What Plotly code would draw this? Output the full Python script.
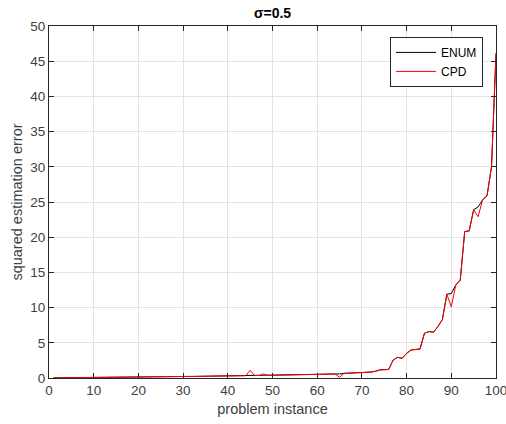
import plotly.graph_objects as go

# problem instances 1..100, sorted by ENUM error
instances = list(range(1, 101))

enum_err = [
    0.02, 0.03, 0.04, 0.05, 0.05, 0.06, 0.06, 0.07, 0.07, 0.08,
    0.08, 0.09, 0.09, 0.10, 0.10, 0.11, 0.11, 0.12, 0.13, 0.14,
    0.15, 0.15, 0.16, 0.17, 0.17, 0.18, 0.19, 0.19, 0.20, 0.21,
    0.22, 0.22, 0.23, 0.24, 0.25, 0.26, 0.27, 0.28, 0.29, 0.30,
    0.31, 0.31, 0.32, 0.32, 0.33, 0.34, 0.34, 0.40, 0.36, 0.37,
    0.38, 0.39, 0.40, 0.41, 0.42, 0.44, 0.46, 0.47, 0.49, 0.51,
    0.52, 0.53, 0.55, 0.57, 0.58, 0.66, 0.68, 0.70, 0.71, 0.72,
    0.78, 0.84, 0.95, 1.15, 1.18, 1.22, 2.56, 2.94, 2.80, 3.50,
    3.98, 4.05, 4.12, 6.35, 6.60, 6.50, 7.30, 8.30, 11.90, 12.00,
    13.20, 13.90, 20.80, 20.90, 23.90, 24.30, 25.30, 25.90, 30.00, 46.10,
]

cpd_err = [
    0.02, 0.03, 0.04, 0.05, 0.05, 0.06, 0.06, 0.07, 0.07, 0.08,
    0.08, 0.09, 0.09, 0.10, 0.10, 0.11, 0.11, 0.12, 0.13, 0.14,
    0.15, 0.15, 0.16, 0.17, 0.17, 0.18, 0.19, 0.19, 0.20, 0.21,
    0.22, 0.22, 0.23, 0.24, 0.25, 0.26, 0.27, 0.28, 0.29, 0.30,
    0.31, 0.31, 0.32, 0.32, 1.10, 0.33, 0.36, 0.57, 0.36, 0.37,
    0.38, 0.39, 0.40, 0.41, 0.42, 0.44, 0.46, 0.47, 0.49, 0.51,
    0.52, 0.53, 0.55, 0.57, 0.10, 0.66, 0.68, 0.70, 0.71, 0.72,
    0.78, 0.84, 0.95, 1.15, 1.18, 1.22, 2.56, 2.94, 2.80, 3.50,
    3.98, 4.05, 4.12, 6.35, 6.60, 6.50, 7.30, 8.30, 11.90, 10.10,
    13.20, 13.90, 20.80, 20.90, 23.90, 22.90, 25.30, 25.90, 30.00, 46.10,
]

x_ticks = list(range(0, 101, 10))
y_ticks = list(range(0, 51, 5))

font_family = "Liberation Sans, Arial, sans-serif"
axis_color = "#262626"

fig = go.Figure()
fig.add_trace(go.Scatter(
    x=instances, y=enum_err, mode="lines", name="ENUM",
    line=dict(color="#000000", width=1),
))
fig.add_trace(go.Scatter(
    x=instances, y=cpd_err, mode="lines", name="CPD",
    line=dict(color="#ff0000", width=1),
))

axis_common = dict(
    showline=True, linecolor=axis_color, linewidth=1, mirror="ticks",
    ticks="inside", ticklen=5, tickwidth=1, tickcolor=axis_color,
    showgrid=True, gridcolor="#e3e3e3", gridwidth=1, zeroline=False,
    tickfont=dict(family=font_family, size=13.5, color="#404040"),
    ticklabeloverflow="allow", automargin=False,
)

fig.update_layout(
    width=506, height=424,
    margin=dict(l=49, r=10, t=26, b=46),
    paper_bgcolor="white", plot_bgcolor="white",
    font=dict(family=font_family, color="#262626"),
    title=dict(text="<b>σ=0.5</b>", x=(49 + 496) / 2 / 506, xanchor="center",
               y=1 - 13 / 424, yanchor="middle",
               font=dict(size=14, color="#000000")),
    xaxis=dict(range=[0, 100], tickvals=x_ticks,
               title=dict(text="problem instance", standoff=6,
                          font=dict(size=14.5, color="#404040")),
               **axis_common),
    yaxis=dict(range=[0, 50], tickvals=y_ticks,
               title=dict(text="squared estimation error", standoff=4,
                          font=dict(size=14.5, color="#404040")),
               **axis_common),
    legend=dict(x=0.971, xanchor="right", y=0.969, yanchor="top",
                bgcolor="white", bordercolor=axis_color, borderwidth=1,
                font=dict(family=font_family, size=12, color="#000000"),
                tracegroupgap=0, itemwidth=40),
    showlegend=True,
)

fig.write_html("out.html")
